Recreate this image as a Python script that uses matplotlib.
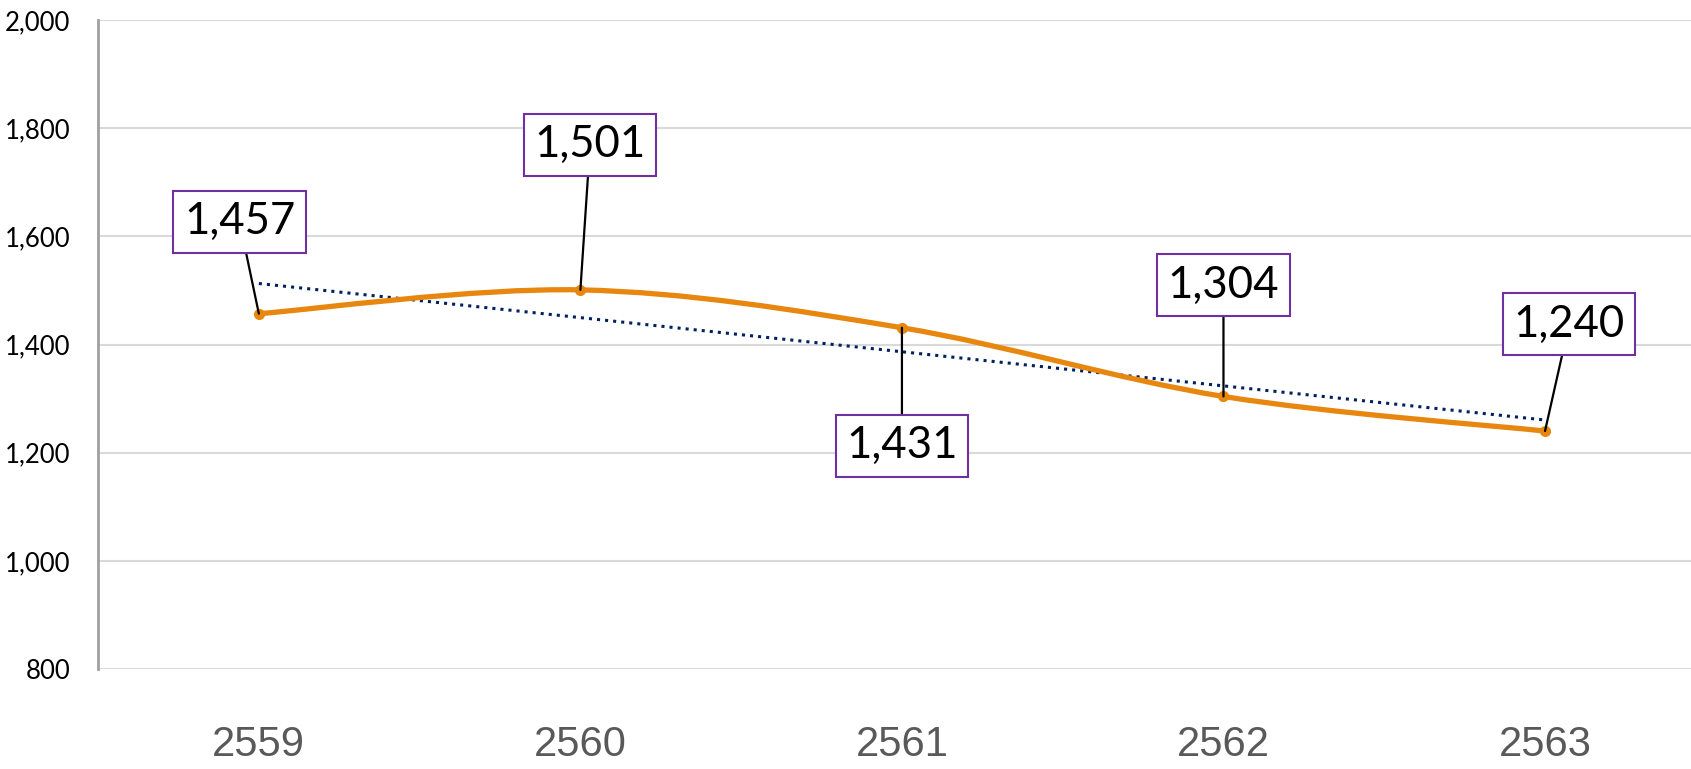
import matplotlib.pyplot as plt
import numpy as np
from matplotlib.path import Path
from matplotlib.patches import PathPatch

years = ['2559', '2560', '2561', '2562', '2563']
values = [1457, 1501, 1431, 1304, 1240]
# where each value box sits (x in category units, y in data units)
label_x = [-0.06, 1.03, 2.0, 3.0, 4.075]
label_y = [1627, 1769, 1213, 1510, 1438]

yticks = [800, 1000, 1200, 1400, 1600, 1800, 2000]

orange = '#E8870F'
navy = '#002060'
purple = '#7030A0'

fig = plt.figure(figsize=(16.91, 7.69), dpi=100)
ax = fig.add_axes([0.058, 0.130, 0.942, 0.844])

x = np.arange(len(values))
y = np.array(values, dtype=float)

# smoothed line (Excel style bezier segments)
pts = np.column_stack([x, y])
ext = np.vstack([pts[0], pts, pts[-1]])
verts = [tuple(pts[0])]
codes = [Path.MOVETO]
for i in range(len(pts) - 1):
    p0, p1, p2, p3 = ext[i], ext[i + 1], ext[i + 2], ext[i + 3]
    c1 = p1 + (p2 - p0) / 6
    c2 = p2 - (p3 - p1) / 6
    verts += [tuple(c1), tuple(c2), tuple(p2)]
    codes += [Path.CURVE4] * 3
ax.add_patch(PathPatch(Path(verts, codes), facecolor='none', edgecolor=orange,
                       lw=3.8, capstyle='round', joinstyle='round', zorder=3))
ax.plot(x, y, 'o', color=orange, ms=7, zorder=4)

# linear trendline
k, b = np.polyfit(x, y, 1)
ax.plot(x, k * x + b, ':', color=navy, lw=2.2, zorder=2)

for xi, yi, lx, ly in zip(x, values, label_x, label_y):
    ax.annotate(f'{yi:,}', xy=(xi, yi), xytext=(lx, ly),
                ha='center', va='center', fontsize=31.5, family='Lato',
                bbox=dict(boxstyle='square,pad=0.24', fc='white', ec=purple, lw=1.5),
                arrowprops=dict(arrowstyle='-', color='black', lw=1.6,
                                shrinkA=0, shrinkB=0),
                zorder=5)

ax.set_xlim(-0.5, 4.454)
ax.set_ylim(800, 2000)
ax.set_yticks(yticks)
ax.set_yticklabels([f'{t:,}' for t in yticks], fontsize=18.5, family='Lato')
ax.set_xticks(x)
ax.set_xticklabels(years, fontsize=30, color='#595959', family='Liberation Sans')
ax.tick_params(axis='both', length=0)
ax.tick_params(axis='x', pad=40)
ax.tick_params(axis='y', pad=20)

ax.grid(axis='y', color='#d9d9d9', lw=1.5)
ax.set_axisbelow(True)
for s in ['top', 'right', 'bottom']:
    ax.spines[s].set_visible(False)
ax.spines['left'].set_color('#a0a0a0')
ax.spines['left'].set_linewidth(2)

fig.savefig('out.png', dpi=100)
